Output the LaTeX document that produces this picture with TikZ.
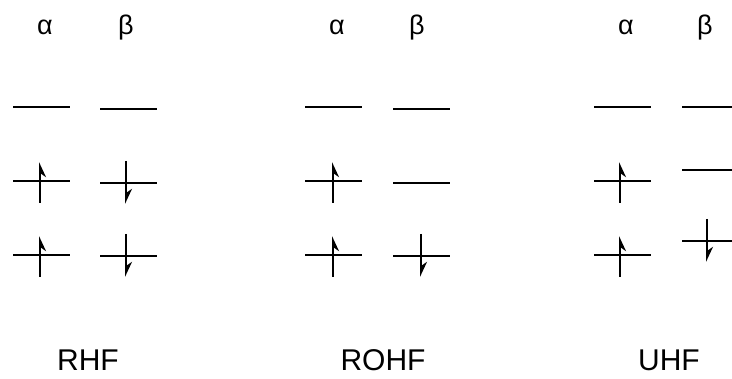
\documentclass[tikz,border=0pt]{standalone}
\usepackage{fontspec}
\setmainfont{Liberation Sans}
\usetikzlibrary{arrows.meta}

\tikzset{
  level/.style={line width=2pt},
  spinup/.style={line width=2pt,-{Stealth[harpoon,swap,length=13pt,width=12pt]}},
  spindown/.style={line width=2pt,-{Stealth[harpoon,length=13pt,width=12pt]}},
  spinlab/.style={font=\fontsize{27}{27}\selectfont,anchor=base,inner sep=0pt},
  methlab/.style={font=\fontsize{30}{30}\selectfont,anchor=base,inner sep=0pt}
}

\begin{document}
\begin{tikzpicture}[x=1pt,y=-1pt]
\useasboundingbox (0,0) rectangle (732,379);
% spin labels
\foreach \n/\xa/\xb in {rhf/45/126,rohf/337/417,uhf/626/705}{
  \node[spinlab] (\n-a) at (\xa,35) {α};
  \node[spinlab] (\n-b) at (\xb,35) {β};
}
% orbital levels
\foreach \x/\y in {13/107,13/181,13/255,100/109,100/183,100/256,
                   305/107,305/181,305/255,393/109,393/183,393/256,
                   594/107,594/181,594/255}{
  \draw[level] (\x,\y) -- (\x+57,\y);
}
\foreach \y in {107,170,241}{\draw[level] (682,\y) -- (732,\y);}
% electrons
\foreach \x/\y in {40/181,40/255,333/181,333/255,620/181,620/255}{
  \draw[spinup] (\x,\y+22) -- (\x,\y-19);
}
\foreach \x/\y in {126/183,126/256,421/256,707/241}{
  \draw[spindown] (\x,\y-22) -- (\x,\y+21);
}
% method names
\node[methlab] (rhf)  at (88,371)  {RHF};
\node[methlab] (rohf) at (383,371) {ROHF};
\node[methlab] (uhf)  at (669,371) {UHF};
\end{tikzpicture}
\end{document}
